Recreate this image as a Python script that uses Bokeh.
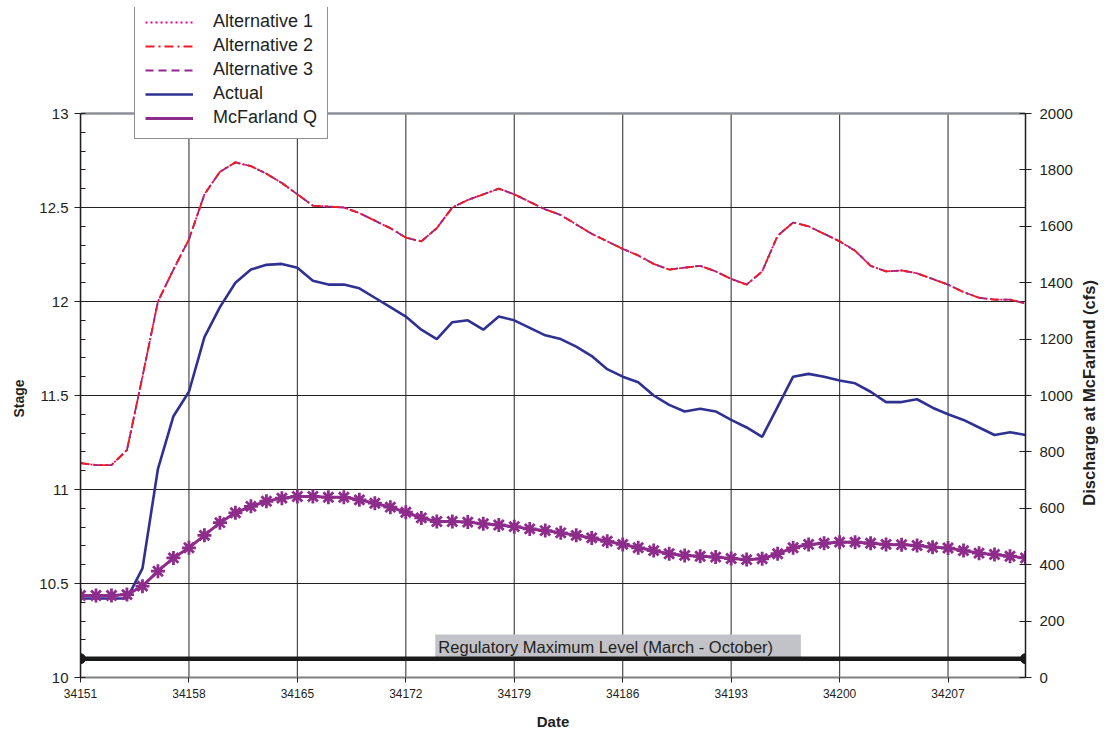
import math
from bokeh.plotting import figure
from bokeh.models import (Range1d, LinearAxis, FixedTicker, SingleIntervalTicker,
                          Legend, LegendItem, Label, BoxAnnotation, Span, Title)
from bokeh.embed import file_html
from bokeh.resources import INLINE

days = list(range(34151, 34213))
date_ticks = [34151, 34158, 34165, 34172, 34179, 34186, 34193, 34200, 34207]
stage_grid = [10.5, 11.0, 11.5, 12.0, 12.5]

alt1 = [11.14, 11.13, 11.13, 11.21, 11.60, 12.00, 12.17, 12.33, 12.57, 12.69,
        12.74, 12.72, 12.68, 12.63, 12.57, 12.51, 12.505, 12.50, 12.47, 12.43,
        12.39, 12.34, 12.32, 12.39, 12.50, 12.54, 12.57, 12.60, 12.57, 12.53,
        12.49, 12.46, 12.41, 12.36, 12.32, 12.28, 12.245, 12.20, 12.17, 12.18,
        12.19, 12.16, 12.12, 12.09, 12.16, 12.35, 12.42, 12.40, 12.36, 12.32,
        12.27, 12.19, 12.16, 12.165, 12.15, 12.12, 12.09, 12.05, 12.02, 12.01,
        12.01, 11.99]
alt2 = [11.14, 11.13, 11.13, 11.21, 11.60, 12.00, 12.17, 12.33, 12.57, 12.69,
        12.74, 12.72, 12.68, 12.63, 12.57, 12.51, 12.505, 12.50, 12.47, 12.43,
        12.39, 12.34, 12.32, 12.39, 12.50, 12.54, 12.57, 12.60, 12.57, 12.53,
        12.49, 12.46, 12.41, 12.36, 12.32, 12.28, 12.245, 12.20, 12.17, 12.18,
        12.19, 12.16, 12.12, 12.09, 12.16, 12.35, 12.42, 12.40, 12.36, 12.32,
        12.27, 12.19, 12.16, 12.165, 12.15, 12.12, 12.09, 12.05, 12.02, 12.01,
        12.01, 11.99]
alt3 = [11.14, 11.13, 11.13, 11.21, 11.60, 12.00, 12.17, 12.33, 12.57, 12.69,
        12.74, 12.72, 12.68, 12.63, 12.57, 12.51, 12.505, 12.50, 12.47, 12.43,
        12.39, 12.34, 12.32, 12.39, 12.50, 12.54, 12.57, 12.60, 12.57, 12.53,
        12.49, 12.46, 12.41, 12.36, 12.32, 12.28, 12.245, 12.20, 12.17, 12.18,
        12.19, 12.16, 12.12, 12.09, 12.16, 12.35, 12.42, 12.40, 12.36, 12.32,
        12.27, 12.19, 12.16, 12.165, 12.15, 12.12, 12.09, 12.05, 12.02, 12.01,
        12.01, 11.99]
actual = [10.42, 10.42, 10.42, 10.42, 10.58, 11.11, 11.39, 11.52, 11.81, 11.97,
          12.10, 12.17, 12.195, 12.20, 12.18, 12.11, 12.09, 12.09, 12.07, 12.02,
          11.97, 11.92, 11.85, 11.80, 11.89, 11.90, 11.85, 11.92, 11.90, 11.86,
          11.82, 11.80, 11.76, 11.71, 11.64, 11.60, 11.57, 11.50, 11.45, 11.415,
          11.43, 11.415, 11.37, 11.33, 11.28, 11.44, 11.60, 11.615, 11.60, 11.58,
          11.565, 11.52, 11.465, 11.465, 11.48, 11.435, 11.40, 11.37, 11.33, 11.29,
          11.305, 11.29]
mcfarland_q = [291, 291, 291, 294, 324, 377, 424, 460, 504, 549,
               584, 607, 625, 636, 642, 642, 639, 639, 630, 618,
               604, 586, 566, 553, 553, 551, 545, 541, 535, 527,
               521, 513, 504, 495, 483, 472, 460, 450, 439, 433,
               430, 427, 422, 418, 421, 439, 460, 472, 476, 480,
               480, 476, 472, 471, 468, 462, 459, 450, 441, 436,
               430, 424]
reg_x = [34151, 34212]
reg_y = [10.1, 10.1]
reg_label = "Regulatory Maximum Level (March - October)"

STAGE_MIN, STAGE_MAX = 10.0, 13.0
Q_MIN, Q_MAX = 0, 2000

FONT = "Liberation Sans"
TXT = "#231f20"

# The frame reaches up to the legend's top; the axes are bounded to 10-13.
FRAME_TOP_EXTRA = 106 / 188.0
stage_top = STAGE_MAX + FRAME_TOP_EXTRA
q_top = Q_MAX * (stage_top - STAGE_MIN) / (STAGE_MAX - STAGE_MIN)

p = figure(width=1109, height=734, output_backend="svg", toolbar_location=None,
           x_range=Range1d(34151, 34212), y_range=Range1d(STAGE_MIN, stage_top),
           min_border_left=80, min_border_right=84, min_border_top=7,
           min_border_bottom=57, background_fill_color="white",
           border_fill_color="white")
p.extra_y_ranges = {"q": Range1d(Q_MIN, q_top)}
p.outline_line_color = None

# grids
p.xgrid.grid_line_color = None
p.ygrid.ticker = FixedTicker(ticks=stage_grid)
p.ygrid.grid_line_color = "#231f20"
p.ygrid.grid_line_width = 1.2
p.segment(x0=date_ticks, y0=[STAGE_MIN] * len(date_ticks),
          x1=date_ticks, y1=[STAGE_MAX] * len(date_ticks),
          line_color="#4a4a4a", line_width=1.2, level="underlay")
p.add_layout(Span(location=STAGE_MAX, dimension="width", line_color="#8c9096",
                  line_width=2.5, level="underlay"))

# x axis
xa = p.xaxis[0]
xa.ticker = FixedTicker(ticks=date_ticks)
xa.axis_line_color = "#808080"
xa.axis_line_width = 2
xa.major_tick_out = 5
xa.major_tick_in = 0
xa.minor_tick_out = 0
xa.major_tick_line_color = TXT
xa.major_label_text_font = FONT
xa.major_label_text_font_size = "12px"
xa.major_label_text_color = TXT
xa.major_label_standoff = 6
xa.axis_label = "Date"
xa.axis_label_text_font = FONT
xa.axis_label_text_font_size = "15px"
xa.axis_label_text_font_style = "bold"
xa.axis_label_text_color = TXT
xa.axis_label_standoff = 12

# left axis
ya = p.yaxis[0]
ya.bounds = (STAGE_MIN, STAGE_MAX)
ya.ticker = SingleIntervalTicker(interval=0.5, num_minor_ticks=5)
ya.axis_line_color = TXT
ya.axis_line_width = 1.5
ya.major_tick_out = 6
ya.major_tick_in = 0
ya.minor_tick_in = 5
ya.minor_tick_out = 0
ya.major_tick_line_color = TXT
ya.minor_tick_line_color = TXT
ya.major_label_text_font = FONT
ya.major_label_text_font_size = "15px"
ya.major_label_text_color = TXT
ya.major_label_standoff = 6
ya.axis_label = None

# "Stage" title, centred on the 10-13 part of the axis
p.add_layout(Title(text="Stage", align="left", offset=260, standoff=18,
                   vertical_align="middle", text_font=FONT,
                   text_font_size="14px", text_font_style="bold",
                   text_color=TXT), "left")

# right axis
ra = LinearAxis(y_range_name="q", bounds=(Q_MIN, Q_MAX),
                ticker=SingleIntervalTicker(interval=200, num_minor_ticks=0))
ra.axis_line_color = TXT
ra.axis_line_width = 1.5
ra.major_tick_out = 6
ra.major_tick_in = 6
ra.major_tick_line_color = TXT
ra.major_label_text_font = FONT
ra.major_label_text_font_size = "15px"
ra.major_label_text_color = TXT
ra.major_label_standoff = 8
# leading em spaces lift the title so it is centred on the 0-2000 part
ra.axis_label = "\u2003" * 10 + "\u2005\u2006" + "Discharge at McFarland (cfs)"
ra.axis_label_text_font = FONT
ra.axis_label_text_font_size = "16.5px"
ra.axis_label_text_font_style = "bold"
ra.axis_label_text_color = TXT
ra.axis_label_standoff = 13
ra.axis_label_orientation = math.pi / 2
try:
    ra.axis_label_align = "start"
except Exception:
    pass
p.add_layout(ra, "right")

# regulatory label box (under the lines)
box = BoxAnnotation(left=34173.9, right=34197.5, bottom=10.096, top=10.229,
                    fill_color="#c2c3c9", fill_alpha=1, line_color=None,
                    level="underlay")
p.add_layout(box)

# series
r_a1 = p.line(days, alt1, line_color="#ec008c", line_width=1.8, line_dash="2 3")
r_a3 = p.line(days, alt3, line_color="#92278f", line_width=1.8, line_dash="8 5")
r_a2 = p.line(days, alt2, line_color="#ed1c24", line_width=1.8, line_dash="9 4 2 4")
r_act = p.line(days, actual, line_color="#2e3192", line_width=2.6)
r_q = p.line(days, mcfarland_q, y_range_name="q", line_color="#8e2c8c", line_width=3)
r_qm = p.scatter(days, mcfarland_q, y_range_name="q", marker="asterisk", size=14,
                 line_color="#8e2c8c", line_width=2.8)
r_qsq = p.scatter([], [], y_range_name="q", marker="square", size=8,
                  fill_color="#8e2c8c", line_color="#8e2c8c")

p.line(reg_x, reg_y, line_color="#1a1a1a", line_width=4.5)
p.scatter(reg_x, reg_y, marker="circle", size=10, fill_color="#1a1a1a",
          line_color="#1a1a1a")

p.add_layout(Label(x=34174.1, y=10.163, text=reg_label, text_font=FONT,
                   text_font_size="16.5px", text_baseline="middle",
                   text_color=TXT))

legend = Legend(items=[
    LegendItem(label="Alternative 1", renderers=[r_a1]),
    LegendItem(label="Alternative 2", renderers=[r_a2]),
    LegendItem(label="Alternative 3", renderers=[r_a3]),
    LegendItem(label="Actual", renderers=[r_act]),
    LegendItem(label="McFarland Q", renderers=[r_q, r_qsq]),
], location=(54, 538))
legend.label_text_font = FONT
legend.label_text_font_size = "18px"
legend.label_text_color = TXT
legend.glyph_width = 48
legend.glyph_height = 20
legend.label_height = 20
legend.spacing = 3
legend.padding = 10
legend.label_standoff = 20
legend.margin = 0
legend.border_line_color = TXT
legend.border_line_width = 1.2
legend.background_fill_color = "white"
legend.background_fill_alpha = 1
p.add_layout(legend)

open("out.html", "w").write(file_html(p, INLINE))
